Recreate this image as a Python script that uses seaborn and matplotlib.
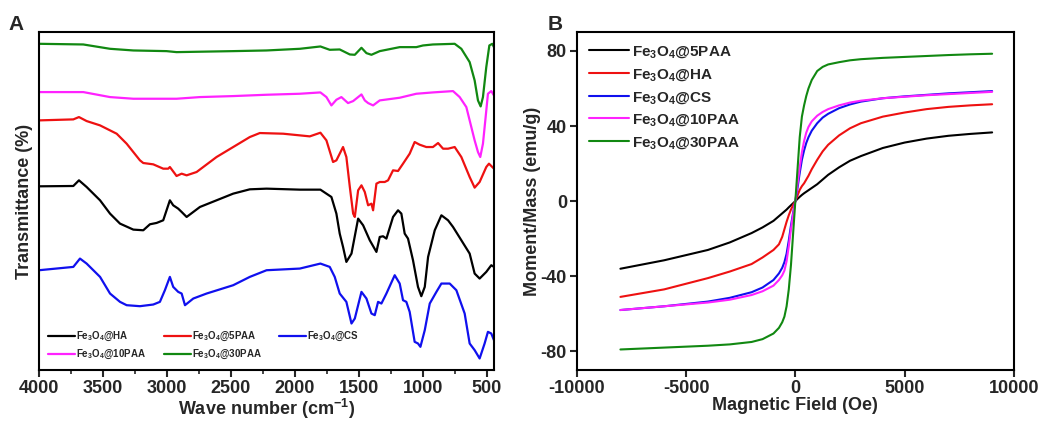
import seaborn as sns
import numpy as np
import matplotlib.pyplot as plt

# FTIR spectra (panel A), wavenumber in cm-1, transmittance in arbitrary offset units
wn_30paa = [4000, 3654, 3445, 3263, 3003, 2925, 2482, 2221, 1961, 1800, 1727, 1649, 1570, 1531, 1479, 1440,
            1401, 1336, 1180, 1050, 998, 920, 750, 698, 633, 594, 568, 547, 529, 503, 479, 456, 443]
t_30paa = [98.0, 97.8, 96.5, 96.0, 95.8, 95.5, 95.8, 96.0, 96.5, 97.2, 96.2, 96.3, 94.8, 94.7, 96.8, 95.2,
           94.7, 95.8, 97.0, 97.0, 97.5, 97.8, 98.0, 96.5, 92.5, 87.0, 81.0, 79.2, 82.0, 91.0, 97.5, 98.0, 97.0]

wn_10paa = [4000, 3654, 3445, 3263, 2925, 2742, 2482, 2221, 1961, 1800, 1753, 1714, 1675, 1636, 1584, 1544,
            1479, 1453, 1427, 1388, 1336, 1180, 1050, 920, 763, 711, 659, 620, 594, 568, 550, 529, 508, 490,
            464, 443]
t_10paa = [83.5, 83.5, 82.0, 81.5, 81.5, 82.0, 82.3, 82.7, 83.0, 83.4, 82.0, 79.5, 81.2, 82.0, 80.2, 80.8,
           82.8, 81.0, 80.2, 79.5, 81.0, 81.8, 83.0, 83.4, 83.8, 82.0, 79.0, 73.0, 69.0, 65.5, 64.0, 68.0, 76.0,
           83.0, 83.8, 82.5]

wn_5paa = [4000, 3732, 3688, 3628, 3523, 3393, 3315, 3211, 3185, 3107, 3029, 2990, 2977, 2938, 2925, 2885,
           2846, 2768, 2612, 2482, 2352, 2274, 2091, 1961, 1883, 1800, 1753, 1701, 1675, 1623, 1597, 1570,
           1544, 1531, 1505, 1479, 1453, 1427, 1401, 1388, 1362, 1336, 1297, 1271, 1232, 1193, 1154, 1102,
           1063, 1024, 972, 920, 880, 841, 802, 750, 698, 633, 594, 555, 503, 482, 443]
t_5paa = [75.0, 75.3, 76.0, 74.8, 73.5, 71.0, 68.0, 63.0, 62.2, 61.8, 60.5, 60.5, 61.0, 59.0, 58.3, 59.0,
          58.5, 59.5, 64.0, 67.0, 70.0, 71.2, 71.0, 70.5, 70.2, 71.3, 69.0, 62.5, 63.0, 67.0, 64.0, 55.0,
          47.0, 46.0, 54.0, 55.5, 53.5, 49.5, 50.0, 48.0, 56.0, 56.5, 56.5, 57.0, 60.0, 59.8, 62.0, 65.0,
          68.5, 67.7, 67.0, 67.0, 68.2, 66.5, 66.5, 67.0, 64.0, 58.0, 54.8, 56.5, 61.0, 62.0, 60.5]

wn_ha = [4000, 3732, 3688, 3628, 3523, 3445, 3367, 3263, 3185, 3133, 3081, 3029, 2977, 2951, 2912, 2885,
         2846, 2742, 2612, 2482, 2352, 2221, 1961, 1800, 1714, 1675, 1649, 1623, 1597, 1557, 1505, 1466,
         1414, 1362, 1336, 1310, 1284, 1232, 1193, 1167, 1141, 1115, 1076, 1037, 1011, 984, 958, 932, 906,
         854, 802, 763, 698, 633, 594, 555, 503, 464, 443]
t_ha = [55.2, 55.3, 57.0, 55.0, 51.0, 47.0, 44.0, 42.2, 42.0, 43.8, 44.2, 45.0, 51.0, 49.5, 48.5, 47.5,
        46.0, 49.0, 51.0, 53.0, 54.3, 54.5, 54.2, 54.2, 52.0, 47.0, 41.0, 37.0, 32.5, 35.0, 45.5, 43.5,
        39.0, 35.5, 40.0, 40.2, 39.5, 46.0, 48.0, 47.0, 41.0, 39.5, 33.0, 25.0, 22.2, 25.0, 34.0, 38.0, 42.0,
        46.5, 45.0, 43.0, 39.0, 35.0, 29.0, 27.5, 29.5, 31.5, 31.0]

wn_cs = [4000, 3732, 3680, 3628, 3523, 3445, 3367, 3315, 3211, 3107, 3055, 3016, 2977, 2951, 2912, 2885,
         2859, 2794, 2690, 2482, 2352, 2221, 1961, 1800, 1727, 1688, 1649, 1597, 1557, 1531, 1479, 1440,
         1401, 1375, 1349, 1323, 1284, 1219, 1180, 1154, 1128, 1102, 1063, 1037, 1018, 984, 945, 893, 854,
         789, 737, 672, 633, 594, 555, 516, 490, 464, 443]
t_cs = [30.0, 31.0, 33.5, 32.0, 28.0, 23.0, 20.5, 19.5, 19.2, 19.7, 20.5, 24.0, 28.0, 25.0, 23.5, 23.0,
        19.5, 21.5, 23.0, 25.5, 28.0, 30.0, 30.5, 32.0, 31.0, 28.0, 23.0, 20.5, 14.0, 15.5, 23.5, 21.5,
        17.0, 16.5, 20.5, 20.0, 23.0, 28.5, 26.0, 21.0, 20.5, 17.5, 8.5, 8.0, 7.0, 12.0, 20.0, 23.5, 26.0,
        26.0, 24.0, 17.0, 8.0, 6.0, 3.5, 8.0, 11.5, 11.0, 9.0]

# hysteresis loops (panel B), field in Oe, moment in emu/g
field = [-8000, -6000, -4000, -3000, -2000, -1500, -1000, -750, -600, -500, -400, -300, -200, -100, 0,
         100, 200, 300, 400, 500, 600, 750, 1000, 1250, 1500, 2000, 2500, 3000, 4000, 5000, 6000, 7000,
         8000, 9000]
m_5paa = [-36, -31.5, -26, -22, -17, -14, -10.5, -8, -6.5, -5.5, -4.5, -3.3, -2.2, -1.1, 0,
          1.2, 2.3, 3.3, 4.2, 5, 5.8, 7, 9, 11.5, 14, 18, 21.5, 24, 28.3, 31.2, 33.3, 34.8, 35.8, 36.6]
m_ha = [-51, -47, -41, -37.5, -33.5, -30, -26, -23, -19, -15, -11, -7.5, -4.5, -2, 0,
        3, 6, 8, 9.5, 11.5, 13.5, 17, 22, 26.5, 30, 35, 38.8, 41.5, 45, 47.2, 49, 50.2, 51, 51.6]
m_cs = [-58, -56, -53.5, -51.5, -48.5, -46, -42, -38.5, -35.5, -32.5, -28, -21, -13, -6, 0,
        7, 15, 22, 27, 31, 34, 37.5, 41.5, 44.5, 46.5, 49.5, 51.5, 53, 54.8, 55.8, 56.6, 57.4, 58, 58.6]
m_10paa = [-58, -56, -54, -52.5, -50, -48, -45, -42, -39.5, -37, -32, -24, -15, -7, 0,
           9, 18, 26, 32, 36.5, 39.5, 42.5, 45.5, 47.5, 49, 51, 52.5, 53.5, 54.8, 55.6, 56.4, 57, 57.6, 58.2]
m_30paa = [-79, -78, -77, -76.3, -75, -73.5, -70.5, -67.5, -64.5, -61.5, -56, -47, -34, -17, 0,
           17, 34, 45, 51, 56, 60, 64.5, 69.3, 71.5, 72.8, 74, 75, 75.6, 76.3, 76.8, 77.3, 77.8, 78.2, 78.5]

sns.set_theme(style='ticks')
plt.rcParams['font.family'] = ['Liberation Sans', 'DejaVu Sans']
plt.rcParams['font.weight'] = 'bold'
plt.rcParams['axes.labelweight'] = 'bold'
plt.rcParams['axes.unicode_minus'] = False
plt.rcParams['mathtext.fontset'] = 'custom'
plt.rcParams['mathtext.rm'] = 'Liberation Sans:bold'
plt.rcParams['mathtext.default'] = 'rm'

fig = plt.figure(figsize=(10.64, 4.23), dpi=100)
axA = fig.add_axes([0.0367, 0.125, 0.4273, 0.799])
axB = fig.add_axes([0.542, 0.125, 0.411, 0.799])

def lab(s):
    return 'Fe$_3$O$_4$@' + s

ftir = [(wn_ha, t_ha, 'HA', 'black'), (wn_5paa, t_5paa, '5PAA', '#ee1111'), (wn_cs, t_cs, 'CS', '#1010ee'),
        (wn_10paa, t_10paa, '10PAA', '#ff22ff'), (wn_30paa, t_30paa, '30PAA', '#118811')]
for wn, t, name, c in ftir:
    sns.lineplot(x=wn, y=t, color=c, lw=1.6, label=lab(name), ax=axA)
axA.set_xlim(4000, 445)
axA.set_ylim(0, 101.5)
axA.set_xticks([4000, 3500, 3000, 2500, 2000, 1500, 1000, 500])
axA.set_xticks(np.arange(750, 4000, 500), minor=True)
axA.set_yticks([])
axA.set_xlabel('Wave number (cm$^{-1}$)', fontsize=13, labelpad=0)
axA.set_ylabel('Transmittance (%)', fontsize=13, labelpad=4)
h, l = axA.get_legend_handles_labels()
order = [0, 3, 1, 4, 2]  # fill rows: HA 5PAA CS / 10PAA 30PAA
axA.legend([h[i] for i in order], [l[i] for i in order], loc='lower left', ncol=3, frameon=False,
           fontsize=7, handlelength=2.8, handletextpad=0.1, columnspacing=1.8, borderaxespad=0.5,
           labelspacing=0.5)

mh = [(m_5paa, '5PAA', 'black'), (m_ha, 'HA', '#ee1111'), (m_cs, 'CS', '#1010ee'),
      (m_10paa, '10PAA', '#ff22ff'), (m_30paa, '30PAA', '#118811')]
for m, name, c in mh:
    sns.lineplot(x=field, y=m, color=c, lw=1.5, label=lab(name), ax=axB)
axB.set_xlim(-10000, 10000)
axB.set_ylim(-90, 90)
axB.set_xticks([-10000, -5000, 0, 5000, 10000])
axB.set_yticks([-80, -40, 0, 40, 80])
axB.set_xlabel('Magnetic Field (Oe)', fontsize=13, labelpad=0)
axB.set_ylabel('Moment/Mass (emu/g)', fontsize=13, labelpad=0)
axB.legend(loc='upper left', frameon=False, fontsize=11, handlelength=2.6, handletextpad=0.2,
           labelspacing=0.45, borderaxespad=0.4)

for ax in (axA, axB):
    for sp in ax.spines.values():
        sp.set_linewidth(1.5)
        sp.set_color('black')
    ax.tick_params(axis='both', which='major', labelsize=13, width=1.5, length=5, direction='out', pad=2)
    ax.tick_params(axis='x', which='minor', width=1.2, length=3, direction='out')
    for lbl in ax.get_xticklabels() + ax.get_yticklabels():
        lbl.set_fontweight('bold')

fig.text(0.008, 0.93, 'A', fontsize=15, fontweight='bold')
fig.text(0.515, 0.93, 'B', fontsize=15, fontweight='bold')

fig.savefig('out.png', dpi=100, facecolor='white')
